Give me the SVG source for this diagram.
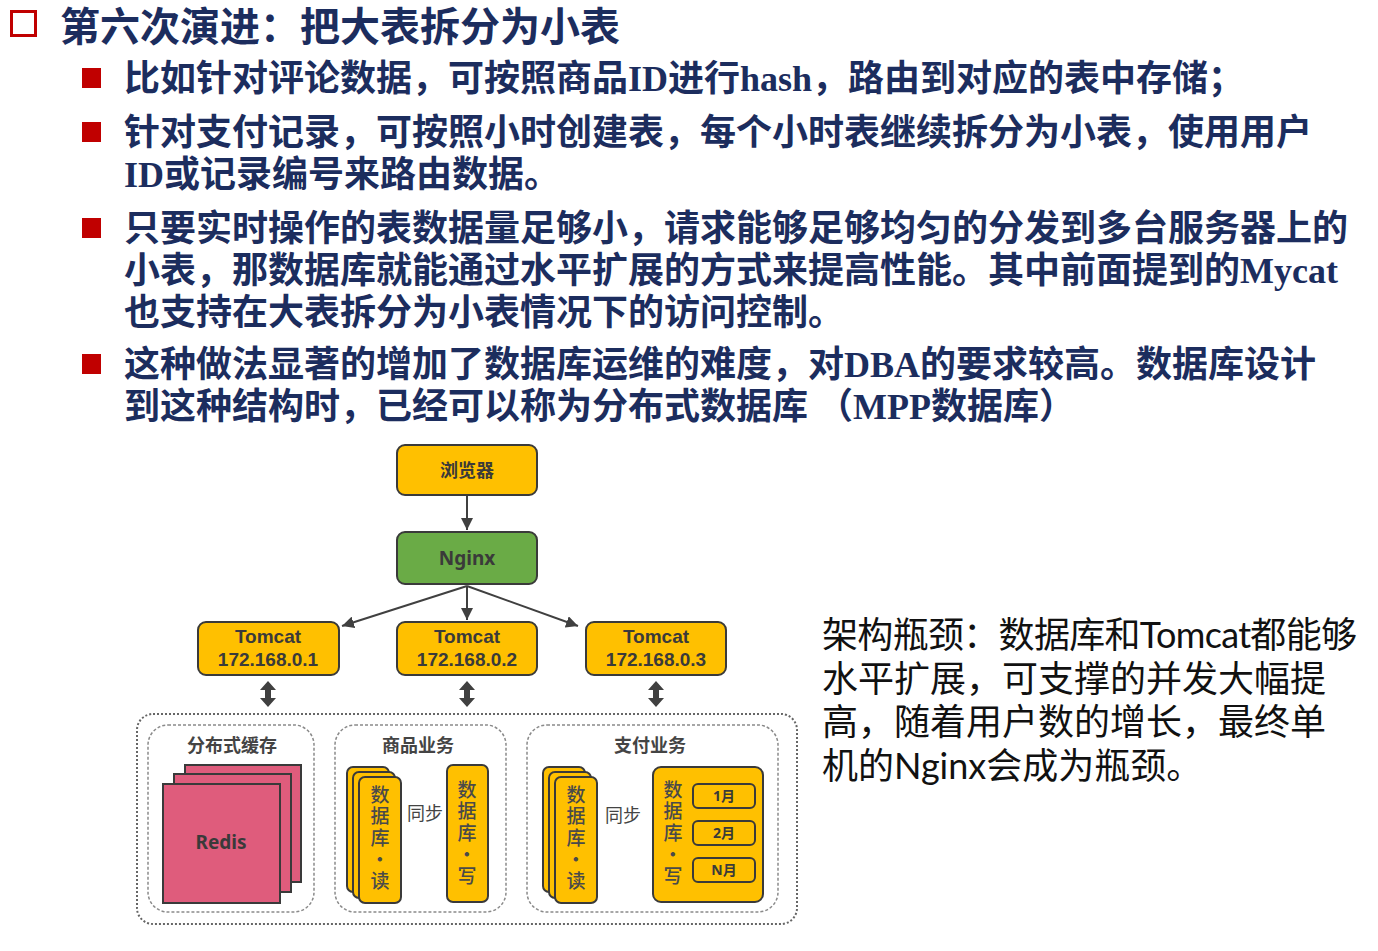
<svg xmlns="http://www.w3.org/2000/svg" width="1378" height="951" viewBox="0 0 1378 951">
<style>
.t{font-family:"Liberation Serif","Noto Sans CJK SC",serif;font-weight:bold;fill:#1c2d5e;font-size:36px}
.h{font-family:"Liberation Sans","Noto Sans CJK SC",sans-serif;font-weight:bold;fill:#1c2d5e;font-size:40px}
.r{font-family:"Lato","Noto Sans CJK SC",sans-serif;fill:#111;font-size:36px}
.bx{fill:#FFC000;stroke:#3a3a3a;stroke-width:2}
.nt{font-family:"Noto Sans","Noto Sans CJK SC",sans-serif;font-weight:bold;fill:#3a3a3a;font-size:19px;text-anchor:middle}
.tt{font-family:"Liberation Sans",Arial,sans-serif;font-weight:bold;fill:#3a3a3a;font-size:19px;text-anchor:middle}
.vt{font-family:"Noto Sans CJK SC",sans-serif;font-weight:500;fill:#4a4a4a;font-size:19px;text-anchor:middle;writing-mode:vertical-rl;letter-spacing:2.5px}
.mt{font-family:"Noto Sans","Noto Sans CJK SC",sans-serif;font-weight:bold;fill:#3a3a3a;font-size:14px;text-anchor:middle}
.gt{font-family:"Noto Sans CJK SC",sans-serif;font-weight:bold;fill:#444;font-size:18px;text-anchor:middle}
.sy{font-family:"Noto Sans CJK SC",sans-serif;fill:#444;font-size:18px;text-anchor:middle}
.ln{stroke:#404040;stroke-width:2;fill:none}
.sl{stroke:#404040;stroke-width:3;fill:none}
.inner{fill:#fff;stroke:#8a8a8a;stroke-width:1.5;stroke-dasharray:3 2}
.rd{fill:#DF5C7C;stroke:#3a3a3a;stroke-width:2}
</style>
<defs>
<marker id="ah" viewBox="0 0 10 10" refX="10" refY="5" markerWidth="12" markerHeight="12" markerUnits="userSpaceOnUse" orient="auto"><path d="M0,0 L10,5 L0,10 z" fill="#404040"/></marker>
<marker id="as" viewBox="0 0 10 10" refX="10" refY="5" markerWidth="12" markerHeight="12" markerUnits="userSpaceOnUse" orient="auto"><path d="M0,0 L10,5 L0,10 z" fill="#404040"/></marker>
</defs>
<rect width="1378" height="951" fill="#fff"/>

<g id="heading">
<rect x="11.5" y="11.5" width="24" height="24" fill="none" stroke="#C00000" stroke-width="3"/>
<text class="h" x="60" y="41">第六次演进：把大表拆分为小表</text>
</g>

<g id="bullets">
<rect x="82" y="68" width="19" height="20" fill="#C00000"/>
<text class="t" x="124" y="91">比如针对评论数据，可按照商品ID进行hash，路由到对应的表中存储；</text>
<rect x="82" y="122" width="19" height="20" fill="#C00000"/>
<text class="t" x="124" y="145">针对支付记录，可按照小时创建表，每个小时表继续拆分为小表，使用用户</text>
<text class="t" x="124" y="187">ID或记录编号来路由数据。</text>
<rect x="82" y="218" width="19" height="20" fill="#C00000"/>
<text class="t" x="124" y="241">只要实时操作的表数据量足够小，请求能够足够均匀的分发到多台服务器上的</text>
<text class="t" x="124" y="283">小表，那数据库就能通过水平扩展的方式来提高性能。其中前面提到的Mycat</text>
<text class="t" x="124" y="325">也支持在大表拆分为小表情况下的访问控制。</text>
<rect x="82" y="354" width="19" height="20" fill="#C00000"/>
<text class="t" x="124" y="377">这种做法显著的增加了数据库运维的难度，对DBA的要求较高。数据库设计</text>
<text class="t" x="124" y="419" xml:space="preserve">到这种结构时，已经可以称为分布式数据库 （MPP数据库）</text>
</g>

<g id="note">
<text class="r" x="822" y="648" textLength="535" lengthAdjust="spacing">架构瓶颈：数据库和Tomcat都能够</text>
<text class="r" x="822" y="692">水平扩展，可支撑的并发大幅提</text>
<text class="r" x="822" y="735">高，随着用户数的增长，最终单</text>
<text class="r" x="822" y="779">机的Nginx会成为瓶颈。</text>
</g>

<g id="cluster">
<rect x="137" y="714" width="660" height="210" rx="16" fill="#fff" stroke="#666" stroke-width="2" stroke-dasharray="2 2"/>
</g>

<g id="connectors">
<line class="ln" x1="467" y1="496" x2="467" y2="530" marker-end="url(#ah)"/>
<line class="ln" x1="467" y1="586" x2="342" y2="626" marker-end="url(#ah)"/>
<line class="ln" x1="467" y1="586" x2="467" y2="620" marker-end="url(#ah)"/>
<line class="ln" x1="467" y1="586" x2="578" y2="626" marker-end="url(#ah)"/>
<path d="M268,681 L276,690 L271,690 L271,698 L276,698 L268,707 L260,698 L265,698 L265,690 L260,690 Z" fill="#404040"/>
<path d="M467,681 L475,690 L470,690 L470,698 L475,698 L467,707 L459,698 L464,698 L464,690 L459,690 Z" fill="#404040"/>
<path d="M656,681 L664,690 L659,690 L659,698 L664,698 L656,707 L648,698 L653,698 L653,690 L648,690 Z" fill="#404040"/>
<line class="sl" x1="409" y1="832" x2="442" y2="832" marker-end="url(#as)"/>
<line class="sl" x1="441" y1="850" x2="410" y2="850" marker-end="url(#as)"/>
<line class="sl" x1="607" y1="832" x2="640" y2="832" marker-end="url(#as)"/>
<line class="sl" x1="639" y1="850" x2="610" y2="850" marker-end="url(#as)"/>
</g>

<g id="browser">
<rect class="bx" x="397" y="445" width="140" height="50" rx="8"/>
<text class="nt" x="467" y="477" style="font-size:18px">浏览器</text>
</g>
<g id="nginx">
<rect x="397" y="532" width="140" height="52" rx="8" fill="#6AAB46" stroke="#3a3a3a" stroke-width="2"/>
<text class="nt" x="467" y="565">Nginx</text>
</g>
<g id="tomcat1">
<rect class="bx" x="198" y="622" width="141" height="53" rx="8"/>
<text class="tt" x="268" y="643">Tomcat</text>
<text class="tt" x="268" y="666">172.168.0.1</text>
</g>
<g id="tomcat2">
<rect class="bx" x="397" y="622" width="140" height="53" rx="8"/>
<text class="tt" x="467" y="643">Tomcat</text>
<text class="tt" x="467" y="666">172.168.0.2</text>
</g>
<g id="tomcat3">
<rect class="bx" x="586" y="622" width="140" height="53" rx="8"/>
<text class="tt" x="656" y="643">Tomcat</text>
<text class="tt" x="656" y="666">172.168.0.3</text>
</g>

<g id="cache">
<rect class="inner" x="148" y="725" width="166" height="187" rx="20"/>
<text class="gt" x="232" y="752">分布式缓存</text>
<rect class="rd" x="185" y="765" width="116" height="117"/>
<rect class="rd" x="174" y="774" width="117" height="118"/>
<rect class="rd" x="163" y="784" width="117" height="119"/>
<text class="nt" x="221" y="849">Redis</text>
</g>

<g id="goods">
<rect class="inner" x="335" y="725" width="171" height="187" rx="20"/>
<text class="gt" x="418" y="752">商品业务</text>
<rect class="bx" x="347" y="767" width="42" height="125" rx="6"/>
<rect class="bx" x="353" y="772" width="42" height="126" rx="6"/>
<rect class="bx" x="359" y="777" width="42" height="126" rx="6"/>
<text class="vt" x="380" y="839">数据库·读</text>
<text class="sy" x="425" y="820">同步</text>
<rect class="bx" x="447" y="765" width="41" height="137" rx="6"/>
<text class="vt" x="467" y="834">数据库·写</text>
</g>

<g id="payment">
<rect class="inner" x="527" y="725" width="251" height="187" rx="20"/>
<text class="gt" x="650" y="752">支付业务</text>
<rect class="bx" x="543" y="767" width="42" height="125" rx="6"/>
<rect class="bx" x="549" y="772" width="42" height="126" rx="6"/>
<rect class="bx" x="555" y="777" width="42" height="126" rx="6"/>
<text class="vt" x="576" y="839">数据库·读</text>
<text class="sy" x="623" y="822">同步</text>
<rect class="bx" x="653" y="767" width="110" height="135" rx="8"/>
<text class="vt" x="673" y="834">数据库·写</text>
<rect class="bx" x="693" y="784" width="62" height="24" rx="5"/>
<text class="mt" x="724" y="801">1月</text>
<rect class="bx" x="693" y="821" width="62" height="24" rx="5"/>
<text class="mt" x="724" y="838">2月</text>
<rect class="bx" x="693" y="858" width="62" height="24" rx="5"/>
<text class="mt" x="724" y="875">N月</text>
</g>
</svg>
